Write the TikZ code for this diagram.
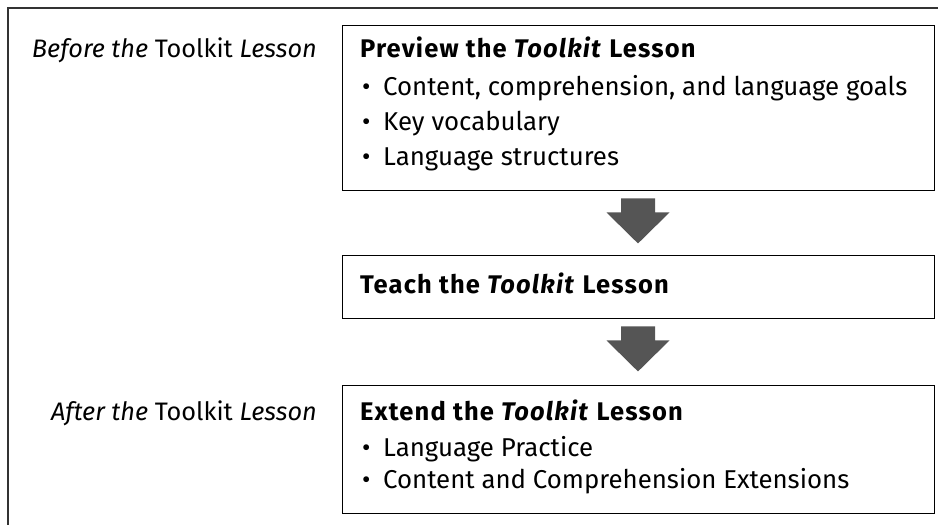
\documentclass[tikz,border=0pt]{standalone}
\usepackage{fontspec}
\setmainfont{Fira Sans}
\newfontfamily\headfont[LetterSpace=4.5]{Fira Sans}
\usetikzlibrary{calc,shadows}
\definecolor{arrowgray}{HTML}{555555}
\definecolor{framegray}{HTML}{333333}
\begin{document}
\begin{tikzpicture}[x=1pt,y=-1pt,
  framelines/.style={draw=framegray,line width=1.2pt},
  box/.style={draw=black,line width=0.9pt,fill=white,minimum width=592pt,inner sep=0pt,
    drop shadow={shadow xshift=1.3pt,shadow yshift=-1.3pt,fill=black!65,opacity=1}},
  headtext/.style={anchor=base west,inner sep=0pt,font=\headfont\fontsize{25.5}{30}\selectfont\bfseries},
  itemtext/.style={anchor=base west,inner sep=0pt,font=\fontsize{25.8}{30}\selectfont},
  sidetext/.style={anchor=base east,inner sep=0pt,font=\fontsize{25.3}{30}\selectfont},
  blockarrow/.style={fill=arrowgray}]
\useasboundingbox (0,0) rectangle (938,525);
\draw[framelines] (8,525) -- (8,8) -- (938,8);

\node[box,minimum height=165pt] (b1) at (638,107.5) {};
\node[box,minimum height=63pt] (b2) at (638,286.5) {};
\node[box,minimum height=128pt] (b3) at (638,449) {};

\node[sidetext] (l1) at (317,57) {\textit{Before the} Toolkit \textit{Lesson}};
\node[sidetext] (l3) at (317,420) {\textit{After the} Toolkit \textit{Lesson}};

\node[headtext] (h1) at (360,57) {Preview the \textit{Toolkit} Lesson};
\node[itemtext] (i11) at (362,95) {\makebox[21pt][l]{•}Content, comprehension, and language goals};
\node[itemtext] (i12) at (362,130) {\makebox[21pt][l]{•}Key vocabulary};
\node[itemtext] (i13) at (362,165) {\makebox[21pt][l]{•}Language structures};

\node[headtext] (h2) at (360,293) {Teach the \textit{Toolkit} Lesson};

\node[headtext] (h3) at (360,420) {Extend the \textit{Toolkit} Lesson};
\node[itemtext] (i31) at (362,456) {\makebox[21pt][l]{•}Language Practice};
\node[itemtext] (i32) at (362,488) {\makebox[21pt][l]{•}Content and Comprehension Extensions};

\fill[blockarrow] ([shift={(-17,8)}]b1.south) -- ([shift={(17,8)}]b1.south)
  -- ([shift={(17,22)}]b1.south) -- ([shift={(31.5,22)}]b1.south)
  -- ([shift={(0,53)}]b1.south) -- ([shift={(-31.5,22)}]b1.south)
  -- ([shift={(-17,22)}]b1.south) -- cycle;
\fill[blockarrow] ([shift={(-17,8)}]b2.south) -- ([shift={(17,8)}]b2.south)
  -- ([shift={(17,22)}]b2.south) -- ([shift={(31.5,22)}]b2.south)
  -- ([shift={(0,53)}]b2.south) -- ([shift={(-31.5,22)}]b2.south)
  -- ([shift={(-17,22)}]b2.south) -- cycle;
\end{tikzpicture}
\end{document}
